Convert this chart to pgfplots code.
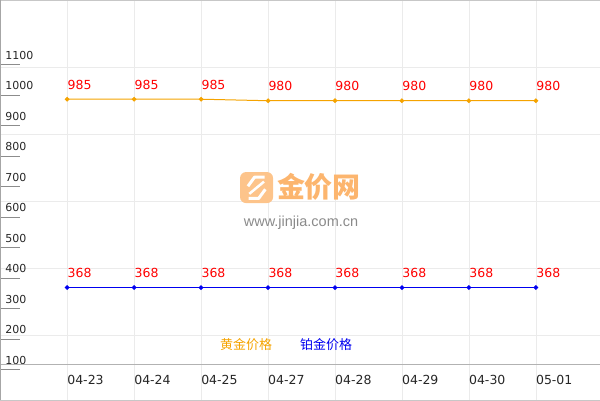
\documentclass[border=0pt]{standalone}
\usepackage{fontspec}
\setmainfont{DejaVu Sans}
\newfontfamily\cjk{Noto Sans CJK SC}
\newfontfamily\urlfont{Liberation Sans}
\usepackage{pgfplots}
\pgfplotsset{compat=1.18}
\definecolor{goldline}{HTML}{F5A300}
\definecolor{ptline}{HTML}{0000F0}
\definecolor{wmorange}{HTML}{FCB56E}
\definecolor{wmgray}{HTML}{8A8A8A}

\begin{document}
\begin{tikzpicture}
\begin{axis}[
  width=600pt, height=400pt, scale only axis,
  xmin=0, xmax=8.955, ymin=0, ymax=1309.3,
  axis line style={draw=black!22},
  /pgf/number format/assume math mode=true,
  /pgf/number format/1000 sep={},
  xtick={1,...,8},
  xticklabels={04-23,04-24,04-25,04-27,04-28,04-29,04-30,05-01},
  xticklabel style={anchor=base west, inner sep=0pt, yshift=15pt,
    font=\fontsize{12.5}{14}\selectfont, text=black!85},
  ytick={212.8,432.1,651.4,870.7,1090}, yticklabels={},
  ytick pos=left, xtick pos=bottom,
  grid=major, grid style={black!8},
  major tick length=0pt,
  extra y ticks={100,200,300,400,500,600,700,800,900,1000,1100},
  extra y tick labels={100,200,300,400,500,600,700,800,900,1000,1100},
  extra y tick style={grid=none, major tick length=20pt, tick align=inside,
    tick style={black!45}},
  yticklabel style={anchor=base west, inner sep=0pt, xshift=5pt, yshift=5pt,
    font=\fontsize{11}{13}\selectfont, text=black!85},
  nodes near coords,
  every node near coord/.append style={anchor=base west, inner sep=0pt,
    yshift=10pt, text=red, font=\fontsize{12.5}{14}\selectfont},
  legend image code/.code={},
  legend style={draw=none, fill=none, at={(axis cs:4.27,180)}, anchor=center,
    font=\cjk\fontsize{13}{15}\selectfont, nodes={inner sep=0pt},
    /tikz/every even column/.append style={column sep=28pt}},
  legend columns=2,
]
% watermark
\fill[wmorange!80, rounded corners=6pt] (axis cs:3.582,644.8) rectangle (axis cs:4.075,746.3);
\draw[white, line width=3pt, line join=round] (axis cs:3.70,700) -- (axis cs:3.80,730) -- (axis cs:3.95,730);
\draw[white, line width=3pt, line join=round] (axis cs:3.96,690) -- (axis cs:3.86,660) -- (axis cs:3.71,660);
\draw[white, line width=2.5pt] (axis cs:3.72,675) -- (axis cs:3.94,715);
\node[text=wmorange, font=\cjk\bfseries\fontsize{28}{30}\selectfont] at (axis cs:4.761,697.2) {金价网};
\node[text=wmgray, font=\urlfont\fontsize{14.5}{16}\selectfont] at (axis cs:4.493,579.4) {www.jinjia.com.cn};
% x axis line and left border
\draw[black!30] (axis cs:0,117.8) -- (axis cs:8.955,117.8);
\draw[black!35, line width=1.5pt] (rel axis cs:0,0) -- (rel axis cs:0,1);

\addplot[color=goldline, line width=1pt, mark=*, mark size=1.8pt] coordinates {
  (1,985) (2,985) (3,985) (4,980) (5,980) (6,980) (7,980) (8,980)};
\addlegendentry{\textcolor{goldline}{黄金价格}}
\addplot[color=ptline, line width=1pt, mark=*, mark size=1.8pt] coordinates {
  (1,368) (2,368) (3,368) (4,368) (5,368) (6,368) (7,368) (8,368)};
\addlegendentry{\textcolor{ptline}{铂金价格}}
\end{axis}
\end{tikzpicture}
\end{document}
